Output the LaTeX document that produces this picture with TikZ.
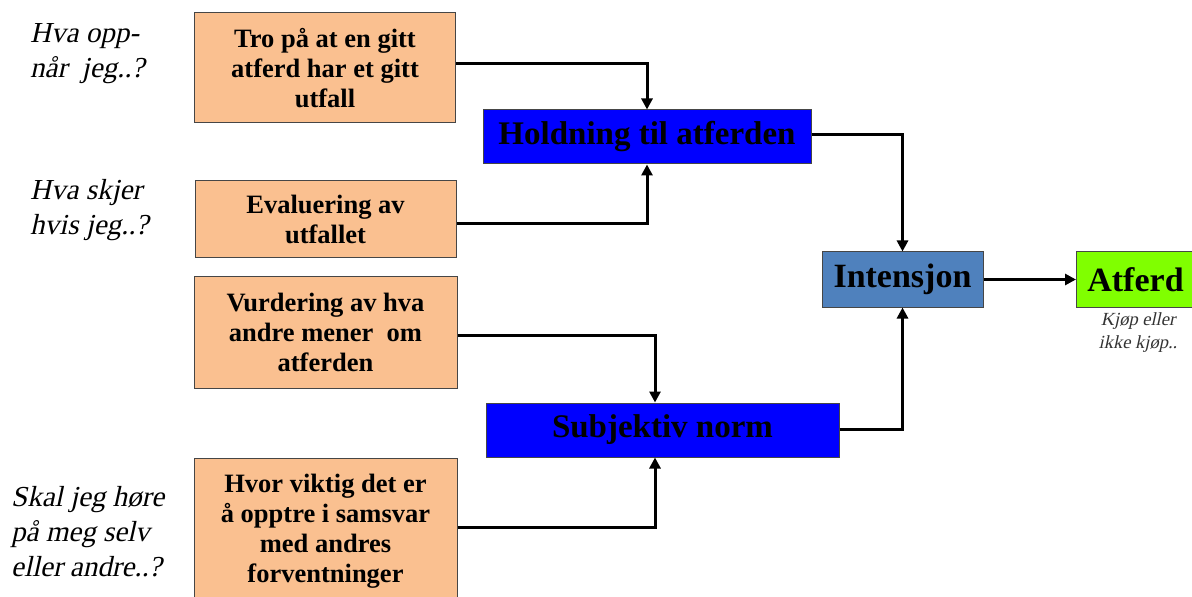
\documentclass[tikz,border=0pt]{standalone}
\usepackage{fontspec}
\setmainfont{Liberation Serif}
\newfontfamily\slantserif[FakeSlant=0.22]{Liberation Serif}
\usetikzlibrary{arrows.meta,calc}
\definecolor{peach}{RGB}{250,192,144}
\definecolor{pblue}{RGB}{0,0,255}
\definecolor{iblue}{RGB}{79,129,189}
\definecolor{lime}{RGB}{128,255,0}
\definecolor{bord}{RGB}{70,70,70}
\tikzset{
  obox/.style={draw=bord, line width=1bp, fill=peach, inner sep=0pt, align=center,
    font=\fontsize{26.5bp}{30bp}\selectfont\bfseries},
  bbox/.style={draw=bord, line width=1bp, fill=pblue, inner sep=0pt, align=center,
    font=\fontsize{33bp}{36bp}\selectfont\bfseries},
  gbox/.style={draw=bord, line width=1bp, inner sep=0pt, align=center,
    font=\fontsize{34bp}{38bp}\selectfont\bfseries},
  qtext/.style={inner sep=0pt, align=left, font=\fontsize{29bp}{35bp}\selectfont\slantserif},
  note/.style={inner sep=0pt, align=center, font=\fontsize{18.5bp}{23bp}\selectfont\slantserif, text=black!80},
  arr/.style={line width=3bp, -{Triangle[length=11bp,width=11bp]}}
}
\begin{document}
\begin{tikzpicture}[x=1bp,y=-1bp]
\useasboundingbox (0,0) rectangle (1192,597);
\clip (0,0) rectangle (1192,597);
% left questions
\node[qtext, anchor=west] (q1) at (30,54) {Hva opp-\\når\ \ jeg..?};
\node[qtext, anchor=west] (q2) at (30,210) {Hva skjer\\hvis jeg..?};
\node[qtext, anchor=west] (q3) at (11,532) {Skal jeg høre\\på meg selv\\eller andre..?};
% orange boxes
\node[obox, minimum width=261bp, minimum height=110bp] (b1) at (325,68) {Tro på at en gitt\\atferd har et gitt\\utfall};
\node[obox, minimum width=261bp, minimum height=77bp] (b2) at (325.5,219.5) {Evaluering av\\utfallet};
\node[obox, minimum width=263bp, minimum height=111bp] (b3) at (325.5,332.5) {Vurdering av hva\\andre mener\ \ om\\atferden};
\node[obox, minimum width=263bp, minimum height=150bp, anchor=north] (b4) at (325.5,458) {};
\node[inner sep=0pt, align=center, font=\fontsize{26.5bp}{30bp}\selectfont\bfseries] (b4t) at (325.5,531) {Hvor viktig det er\\å opptre i samsvar\\med andres\\forventninger};
% blue boxes
\node[bbox, minimum width=328bp, minimum height=54bp] (hold) at (647,137) {Holdning til atferden};
\node[bbox, minimum width=353bp, minimum height=54bp] (sub) at (662.5,430) {Subjektiv norm};
\node[gbox, fill=iblue, minimum width=161bp, minimum height=55bp] (int) at (902.5,279.5) {Intensjon};
\node[gbox, fill=lime, minimum width=124bp, minimum height=55bp, anchor=west] (atf) at (1076,279.5) {Atferd\hspace{6bp}};
\node[note] (kj) at (1138,333) {Kjøp eller\\ikke kjøp..};
% connectors
\draw[arr] (b1.east |- 0,64) -| (hold.north);
\draw[arr] (b2.east |- 0,224) -| (hold.south);
\draw[arr] (hold.east |- 0,135) -| (int.north);
\draw[arr] (b3.east |- 0,335) -| ($(sub.north)+(-7.5,0)$);
\draw[arr] (b4.east |- 0,527) -| ($(sub.south)+(-7.5,0)$);
\draw[arr] (sub.east |- 0,429) -| (int.south);
\draw[arr] (int.east) -- (atf.west);
\end{tikzpicture}
\end{document}
